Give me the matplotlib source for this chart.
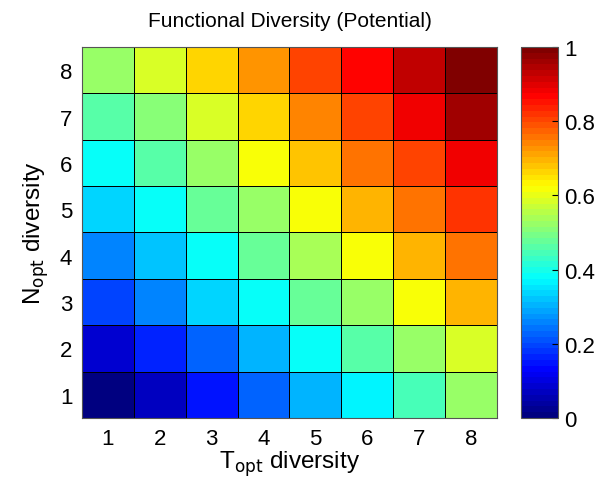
import numpy as np
import matplotlib
matplotlib.use("Agg")
import matplotlib.pyplot as plt
from matplotlib.colors import LinearSegmentedColormap

plt.rcParams['font.family'] = ['Liberation Sans', 'DejaVu Sans']

# T_opt diversity (columns) and N_opt diversity (rows)
t_opt = [1, 2, 3, 4, 5, 6, 7, 8]
n_opt = [1, 2, 3, 4, 5, 6, 7, 8]

# functional diversity, row i = N_opt i+1
row1 = [0.00, 0.07, 0.15, 0.225, 0.30, 0.36, 0.44, 0.52]
row2 = [0.09, 0.16, 0.23, 0.31, 0.39, 0.46, 0.53, 0.59]
row3 = [0.19, 0.25, 0.33, 0.39, 0.475, 0.53, 0.61, 0.69]
row4 = [0.25, 0.325, 0.39, 0.475, 0.54, 0.61, 0.69, 0.75]
row5 = [0.33, 0.39, 0.475, 0.53, 0.61, 0.69, 0.75, 0.825]
row6 = [0.39, 0.46, 0.53, 0.61, 0.675, 0.75, 0.81, 0.89]
row7 = [0.46, 0.51, 0.59, 0.66, 0.74, 0.81, 0.875, 0.955]
row8 = [0.525, 0.58, 0.66, 0.72, 0.80, 0.86, 0.935, 1.00]
fd = np.array([row1, row2, row3, row4, row5, row6, row7, row8])

# matlab style jet, 64 levels
mjet = LinearSegmentedColormap('mjet', {
    'red':   [(0, 0, 0), (0.375, 0, 0), (0.625, 1, 1), (0.875, 1, 1), (1, 0.5, 0.5)],
    'green': [(0, 0, 0), (0.125, 0, 0), (0.375, 1, 1), (0.625, 1, 1), (0.875, 0, 0), (1, 0, 0)],
    'blue':  [(0, 0.5, 0.5), (0.125, 1, 1), (0.375, 1, 1), (0.625, 0, 0), (1, 0, 0)],
}, N=64)

fig = plt.figure(figsize=(6.12, 4.89), dpi=100)
ax = fig.add_axes([0.134, 0.143, 0.678, 0.759])
cax = fig.add_axes([0.851, 0.143, 0.060, 0.759])

xe = np.arange(len(t_opt) + 1) + 0.5
ye = np.arange(len(n_opt) + 1) + 0.5
mesh = ax.pcolormesh(xe, ye, fd, cmap=mjet, vmin=0, vmax=1,
                     edgecolors='black', linewidth=0.6)

ax.set_xticks(t_opt)
ax.set_yticks(n_opt)
ax.tick_params(length=0, labelsize=16, pad=7)
ax.set_xlim(0.5, 8.5)
ax.set_ylim(0.5, 8.5)
for s in ax.spines.values():
    s.set_color('#555555')
ax.set_xlabel(r'T$_{\mathrm{opt}}$ diversity', fontsize=17.5, labelpad=0)
ax.set_ylabel(r'N$_{\mathrm{opt}}$ diversity', fontsize=17.5, labelpad=6)
ax.set_title('Functional Diversity (Potential)', fontsize=15, pad=15)

cb = fig.colorbar(mesh, cax=cax)
cb.set_ticks([0, 0.2, 0.4, 0.6, 0.8, 1])
cb.set_ticklabels(['0', '0.2', '0.4', '0.6', '0.8', '1'])
cb.ax.tick_params(labelsize=16, direction='in', length=4, pad=5)
cb.outline.set_edgecolor('#555555')

fig.savefig('out.png', dpi=100)
